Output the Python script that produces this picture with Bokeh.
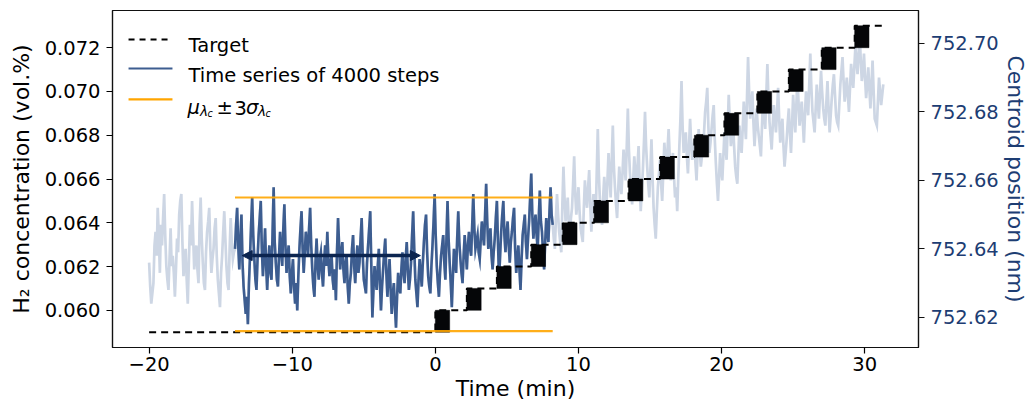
import numpy as np
from bokeh.plotting import figure
from bokeh.models import (Range1d, LinearAxis, FixedTicker, PrintfTickFormatter,
                          Label, Arrow, NormalHead)
from bokeh.embed import file_html
from bokeh.resources import INLINE

# ---------------- data ----------------
# centroid position of the sensing peak (nm), sampled every 0.075 min from t = -20 min
time_start = -20.0
time_step = 0.075
centroid_nm = [
    752.636, 752.629, 752.624, 752.627, 752.630, 752.641, 752.645, 752.638, 752.652, 752.644,
    752.633, 752.647, 752.641, 752.649, 752.656, 752.644, 752.635, 752.631, 752.628, 752.637,
    752.646, 752.635, 752.638, 752.633, 752.626, 752.634, 752.643, 752.639, 752.650, 752.654,
    752.656, 752.642, 752.632, 752.637, 752.640, 752.631, 752.624, 752.636, 752.647, 752.641,
    752.654, 752.644, 752.634, 752.638, 752.641, 752.634, 752.630, 752.647, 752.655, 752.643,
    752.636, 752.630, 752.628, 752.639, 752.645, 752.648, 752.652, 752.640, 752.633, 752.637,
    752.640, 752.646, 752.649, 752.638, 752.631, 752.627, 752.623, 752.633, 752.638, 752.645,
    752.651, 752.643, 752.635, 752.630, 752.628, 752.640, 752.649, 752.642, 752.637, 752.639,
    752.640, 752.647, 752.652, 752.641, 752.634, 752.643, 752.650, 752.636, 752.629, 752.625,
    752.621, 752.626, 752.618, 752.630, 752.638, 752.647, 752.655, 752.644, 752.637, 752.631,
    752.628, 752.637, 752.644, 752.649, 752.654, 752.640, 752.632, 752.638, 752.646, 752.635,
    752.628, 752.636, 752.641, 752.633, 752.631, 752.645, 752.658, 752.642, 752.636, 752.631,
    752.629, 752.638, 752.645, 752.639, 752.635, 752.646, 752.653, 752.641, 752.633, 752.638,
    752.641, 752.632, 752.627, 752.633, 752.637, 752.629, 752.624, 752.630, 752.622, 752.632,
    752.640, 752.646, 752.651, 752.640, 752.633, 752.639, 752.645, 752.642, 752.638, 752.646,
    752.652, 752.641, 752.634, 752.629, 752.626, 752.636, 752.643, 752.635, 752.631, 752.637,
    752.639, 752.633, 752.629, 752.636, 752.641, 752.635, 752.645, 752.637, 752.632, 752.636,
    752.638, 752.631, 752.628, 752.634, 752.625, 752.639, 752.649, 752.641, 752.634, 752.639,
    752.642, 752.634, 752.630, 752.636, 752.638, 752.629, 752.624, 752.630, 752.633, 752.640,
    752.644, 752.635, 752.630, 752.636, 752.641, 752.633, 752.636, 752.643, 752.649, 752.638,
    752.631, 752.629, 752.627, 752.636, 752.641, 752.646, 752.651, 752.635, 752.620, 752.628,
    752.635, 752.631, 752.628, 752.635, 752.640, 752.630, 752.622, 752.629, 752.634, 752.639,
    752.643, 752.633, 752.626, 752.632, 752.637, 752.628, 752.621, 752.627, 752.630, 752.623,
    752.617, 752.626, 752.633, 752.629, 752.627, 752.634, 752.639, 752.633, 752.630, 752.637,
    752.642, 752.634, 752.628, 752.631, 752.636, 752.644, 752.651, 752.640, 752.631, 752.627,
    752.623, 752.631, 752.637, 752.633, 752.629, 752.636, 752.642, 752.647, 752.650, 752.639,
    752.632, 752.629, 752.627, 752.635, 752.641, 752.648, 752.656, 752.644, 752.635, 752.630,
    752.626, 752.633, 752.638, 752.641, 752.644, 752.636, 752.631, 752.643, 752.654, 752.643,
    752.636, 752.630, 752.623, 752.632, 752.640, 752.636, 752.633, 752.643, 752.651, 752.642,
    752.637, 752.633, 752.630, 752.638, 752.644, 752.639, 752.634, 752.641, 752.645, 752.640,
    752.638, 752.647, 752.656, 752.646, 752.640, 752.642, 752.644, 752.639, 752.637, 752.643,
    752.648, 752.644, 752.641, 752.650, 752.659, 752.648, 752.640, 752.643, 752.646, 752.638,
    752.634, 752.639, 752.643, 752.649, 752.654, 752.642, 752.631, 752.638, 752.645, 752.650,
    752.654, 752.644, 752.639, 752.645, 752.648, 752.641, 752.636, 752.642, 752.645, 752.649,
    752.652, 752.640, 752.633, 752.637, 752.641, 752.634, 752.628, 752.637, 752.644, 752.647,
    752.650, 752.642, 752.637, 752.643, 752.648, 752.655, 752.662, 752.650, 752.643, 752.647,
    752.650, 752.644, 752.640, 752.649, 752.657, 752.648, 752.645, 752.639, 752.634, 752.642,
    752.649, 752.645, 752.642, 752.651, 752.658, 752.650, 752.647, 752.643, 752.640, 752.649,
    752.656, 752.650, 752.645, 752.642, 752.639, 752.653, 752.664, 752.655, 752.648, 752.651,
    752.655, 752.647, 752.643, 752.649, 752.652, 752.659, 752.667, 752.656, 752.650, 752.654,
    752.658, 752.651, 752.646, 752.644, 752.642, 752.652, 752.660, 752.655, 752.652, 752.658,
    752.663, 752.653, 752.645, 752.651, 752.656, 752.652, 752.649, 752.662, 752.675, 752.662,
    752.654, 752.650, 752.647, 752.655, 752.661, 752.656, 752.652, 752.660, 752.668, 752.661,
    752.655, 752.666, 752.676, 752.664, 752.658, 752.653, 752.649, 752.657, 752.664, 752.659,
    752.656, 752.662, 752.669, 752.664, 752.660, 752.670, 752.681, 752.669, 752.662, 752.657,
    752.653, 752.660, 752.667, 752.662, 752.658, 752.664, 752.670, 752.659, 752.651, 752.657,
    752.663, 752.671, 752.680, 752.670, 752.664, 752.659, 752.655, 752.663, 752.672, 752.661,
    752.652, 752.647, 752.643, 752.651, 752.658, 752.662, 752.666, 752.659, 752.654, 752.662,
    752.671, 752.666, 752.662, 752.669, 752.675, 752.667, 752.660, 752.664, 752.668, 752.661,
    752.655, 752.658, 752.651, 752.661, 752.670, 752.678, 752.689, 752.676, 752.668, 752.671,
    752.674, 752.667, 752.662, 752.670, 752.678, 752.671, 752.666, 752.669, 752.672, 752.665,
    752.660, 752.668, 752.675, 752.669, 752.664, 752.667, 752.670, 752.674, 752.680, 752.683,
    752.687, 752.676, 752.668, 752.671, 752.675, 752.679, 752.682, 752.672, 752.665, 752.659,
    752.654, 752.661, 752.668, 752.663, 752.660, 752.667, 752.674, 752.670, 752.666, 752.675,
    752.685, 752.677, 752.670, 752.673, 752.677, 752.670, 752.664, 752.661, 752.659, 752.668,
    752.676, 752.671, 752.668, 752.675, 752.683, 752.677, 752.672, 752.684, 752.696, 752.686,
    752.678, 752.682, 752.686, 752.677, 752.670, 752.675, 752.681, 752.676, 752.673, 752.670,
    752.667, 752.676, 752.684, 752.679, 752.675, 752.685, 752.694, 752.684, 752.677, 752.673,
    752.669, 752.676, 752.682, 752.678, 752.674, 752.680, 752.687, 752.678, 752.671, 752.675,
    752.678, 752.670, 752.664, 752.668, 752.672, 752.677, 752.681, 752.674, 752.668, 752.676,
    752.685, 752.679, 752.674, 752.682, 752.690, 752.683, 752.676, 752.680, 752.683, 752.677,
    752.671, 752.679, 752.686, 752.683, 752.679, 752.688, 752.697, 752.687, 752.680, 752.677,
    752.674, 752.681, 752.688, 752.683, 752.678, 752.685, 752.692, 752.686, 752.681, 752.678,
    752.676, 752.683, 752.689, 752.681, 752.674, 752.679, 752.684, 752.688, 752.691, 752.685,
    752.679, 752.677, 752.676, 752.682, 752.688, 752.692, 752.696, 752.689, 752.683, 752.686,
    752.690, 752.685, 752.680, 752.687, 752.694, 752.690, 752.687, 752.693, 752.699, 752.695,
    752.691, 752.697, 752.703, 752.695, 752.689, 752.692, 752.697, 752.690, 752.684, 752.688,
    752.693, 752.687, 752.681, 752.688, 752.695, 752.686, 752.678, 752.677, 752.676, 752.683,
    752.690, 752.686, 752.682, 752.685, 752.688,
]

# analysis window (4000 steps) and its statistics
window_start = -14.0
window_end = 8.2
mu_nm = 752.6355
sigma_nm = 0.0065

# H2 target concentration (vol.%), stepped up at each switching time
target_start = -20.0
target_end = 31.2
target_levels = [0.059, 0.060, 0.061, 0.062, 0.063, 0.064, 0.065, 0.066,
                 0.067, 0.068, 0.069, 0.070, 0.071, 0.072, 0.073]
step_times = [0.0, 2.2, 4.3, 6.7, 8.9, 11.1, 13.5, 15.7, 18.1, 20.2, 22.5, 24.7, 27.0, 29.3]
transition_len = 1.0

# horizontal double arrow marking the window length
arrow_level = 0.0625
arrow_from = -13.5
arrow_to = -1.05

# axes
x_ticks = [-20, -10, 0, 10, 20, 30]
h2_ticks = [0.060, 0.062, 0.064, 0.066, 0.068, 0.070, 0.072]
centroid_ticks = [752.62, 752.64, 752.66, 752.68, 752.70]

# ---------------- styling ----------------
FONT = "DejaVu Sans"
NAVY = "#1d3d73"
DARK = "#3d5d90"
LIGHT = "#cdd6e4"
ORANGE = "#ffa500"
ARROW = "#0c2550"
TICK_PX = "19.5px"

x_lo, x_hi = -22.56, 33.76
h2_lo, h2_hi = 0.0583, 0.0737
c_lo, c_hi = 752.6112, 752.7096

p = figure(frame_width=806, frame_height=337, output_backend="svg", toolbar_location=None,
           x_range=Range1d(x_lo, x_hi), y_range=Range1d(h2_lo, h2_hi),
           min_border_left=112, min_border_right=109, min_border_top=10,
           min_border_bottom=55)
p.extra_y_ranges = {"centroid": Range1d(c_lo, c_hi)}
p.xgrid.visible = False
p.ygrid.visible = False
p.outline_line_color = "#111111"
p.outline_line_width = 1.2
p.background_fill_color = "white"
p.border_fill_color = "white"

def style_axis(ax, color="black", label_color="black"):
    ax.axis_label_text_font = FONT
    ax.axis_label_text_font_size = "22px"
    ax.axis_label_text_font_style = "normal"
    ax.axis_label_text_color = label_color
    ax.major_label_text_font = FONT
    ax.major_label_text_font_size = TICK_PX
    ax.major_label_text_color = label_color
    ax.axis_line_color = "#111111"
    ax.axis_line_width = 1.2
    ax.major_tick_line_color = color
    ax.major_tick_line_width = 1.2
    ax.major_tick_out = 6
    ax.major_tick_in = 0
    ax.minor_tick_line_color = None

xa = p.xaxis[0]
xa.ticker = FixedTicker(ticks=x_ticks)
xa.major_label_overrides = {t: (f"\u2212{abs(t)}" if t < 0 else str(t)) for t in x_ticks}
xa.axis_label = "Time (min)"
style_axis(xa)
xa.major_label_standoff = 3
xa.axis_label_standoff = 2

ya = p.yaxis[0]
ya.ticker = FixedTicker(ticks=h2_ticks)
ya.formatter = PrintfTickFormatter(format="%.3f")
ya.axis_label = "H\u2082 concentration (vol.%)"
style_axis(ya)
ya.major_label_standoff = 6
ya.axis_label_standoff = 8

yr = LinearAxis(y_range_name="centroid", ticker=FixedTicker(ticks=centroid_ticks),
                formatter=PrintfTickFormatter(format="%.2f"),
                axis_label="Centroid position (nm)")
style_axis(yr, color="#111111", label_color=NAVY)
yr.major_label_standoff = 6
yr.axis_label_standoff = 1
p.add_layout(yr, "right")

# ---------------- series ----------------
t = time_start + time_step * np.arange(len(centroid_nm))
c = np.array(centroid_nm)
win = (t >= window_start - 1e-9) & (t <= window_end + 1e-9)

p.line(t, c, y_range_name="centroid", line_color=LIGHT, line_width=2.7, line_join="miter")
p.line(t[win], c[win], y_range_name="centroid", line_color=DARK, line_width=2.6,
       line_join="miter")

# target staircase
tx = [target_start] + step_times + [target_end]
ty = target_levels + [target_levels[-1]]
p.step(tx, ty, mode="after", line_color="black", line_width=2, line_dash="7 5")
st = np.array(step_times)
p.quad(left=st, right=st + transition_len, bottom=target_levels[:-1], top=target_levels[1:],
       fill_color="#050608", line_color="#050608", line_width=0.5)

# mu +/- 3 sigma band limits over the window
p.segment(x0=[window_start, window_start], x1=[window_end, window_end],
          y0=[mu_nm + 3 * sigma_nm, mu_nm - 3 * sigma_nm],
          y1=[mu_nm + 3 * sigma_nm, mu_nm - 3 * sigma_nm],
          y_range_name="centroid", line_color=ORANGE, line_width=2.2, line_alpha=0.9)

# window arrow
p.add_layout(Arrow(start=NormalHead(size=10, fill_color=ARROW, line_color=ARROW),
                   end=NormalHead(size=10, fill_color=ARROW, line_color=ARROW),
                   x_start=arrow_from, y_start=arrow_level, x_end=arrow_to, y_end=arrow_level,
                   line_color=ARROW, line_width=3.5))

# ---------------- legend ----------------
def fx(f):
    return x_lo + f * (x_hi - x_lo)

def fy(f):
    return h2_lo + f * (h2_hi - h2_lo)

lx0, lx1 = fx(0.0199), fx(0.0744)
p.line([lx0, lx1], [fy(0.914)] * 2, line_color="black", line_width=2, line_dash="6 5")
p.line([lx0, lx1], [fy(0.828)] * 2, line_color=DARK, line_width=2)
p.line([lx0, lx1], [fy(0.736)] * 2, line_color=ORANGE, line_width=2.2)

def leg_text(txt, dx, dy, size=TICK_PX, style="normal"):
    p.add_layout(Label(x=x_lo, y=h2_hi, x_offset=dx, y_offset=-dy, text=txt,
                       text_font=FONT, text_font_size=size, text_font_style=style,
                       text_color="black", text_baseline="alphabetic", text_align="left"))

leg_text("Target", 76, 35)
leg_text("Time series of 4000 steps", 76, 65)
leg_text("\u03bc", 75, 97, style="italic")
leg_text("\u03bb", 87.5, 100.5, size="13.7px", style="italic")
leg_text("c", 95, 102.5, size="9.6px", style="italic")
leg_text("\u00b1", 104, 97)
leg_text("3", 122, 97)
leg_text("\u03c3", 133.5, 97, style="italic")
leg_text("\u03bb", 145.5, 100.5, size="13.7px", style="italic")
leg_text("c", 153, 102.5, size="9.6px", style="italic")

open("out.html", "w").write(file_html(p, INLINE))
